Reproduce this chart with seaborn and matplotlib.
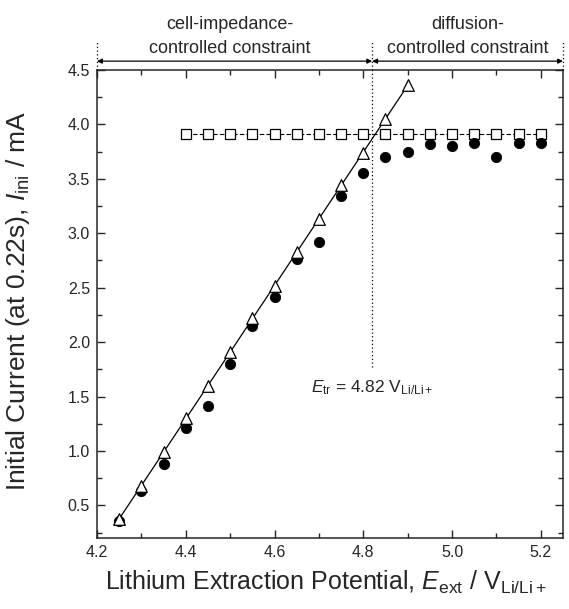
import numpy as np
import pandas as pd
import matplotlib
matplotlib.use("Agg")
import matplotlib.pyplot as plt
import seaborn as sns

# ==============================
# DATA
# ==============================
x_all = [4.25, 4.30, 4.35, 4.40, 4.45, 4.50, 4.55, 4.60, 4.65, 4.70,
         4.75, 4.80, 4.85, 4.90, 4.95, 5.00, 5.05, 5.10, 5.15, 5.20]
i_measured = [0.36, 0.63, 0.88, 1.21, 1.41, 1.80, 2.15, 2.41, 2.76, 2.92,
              3.34, 3.55, 3.70, 3.75, 3.82, 3.80, 3.83, 3.70, 3.83, 3.83]

x_tri = [4.25, 4.30, 4.35, 4.40, 4.45, 4.50, 4.55, 4.60, 4.65, 4.70,
         4.75, 4.80, 4.85, 4.90]
i_impedance = [0.37, 0.68, 0.99, 1.30, 1.60, 1.91, 2.22, 2.52, 2.83, 3.13,
               3.44, 3.74, 4.05, 4.36]

x_sq = [4.40, 4.45, 4.50, 4.55, 4.60, 4.65, 4.70, 4.75, 4.80, 4.85,
        4.90, 4.95, 5.00, 5.05, 5.10, 5.15, 5.20]
i_diffusion = [3.91] * len(x_sq)

E_tr = 4.82

df_meas = pd.DataFrame({'x': x_all, 'y': i_measured})
df_tri = pd.DataFrame({'x': x_tri, 'y': i_impedance})
df_sq = pd.DataFrame({'x': x_sq, 'y': i_diffusion})

# ==============================
# STYLE
# ==============================
sns.set_style("ticks")
plt.rcParams['font.family'] = ['Liberation Sans', 'DejaVu Sans']
plt.rcParams['mathtext.fontset'] = 'custom'
plt.rcParams['mathtext.rm'] = 'Liberation Sans'
plt.rcParams['mathtext.it'] = 'Liberation Sans:italic'

fig = plt.figure(figsize=(5.69, 6.09), dpi=100)
ax = fig.add_axes([0.1705, 0.1166, 0.819, 0.7684])

# linear fit through the cell-impedance points
coef = np.polyfit(x_tri, i_impedance, 1)
fit_x = np.array([x_tri[0], x_tri[-1]])
ax.plot(fit_x, np.polyval(coef, fit_x), color='black', lw=0.9, zorder=1)

# diffusion constant line
sns.lineplot(data=df_sq, x='x', y='y', ax=ax, color='black', lw=0.8,
             linestyle=(0, (4, 2)), marker='s', markersize=6.5,
             markerfacecolor='white', markeredgecolor='black',
             markeredgewidth=0.9, zorder=2)

sns.scatterplot(data=df_tri, x='x', y='y', ax=ax, marker='^', s=70,
                facecolor='white', edgecolor='black', linewidth=0.9, zorder=4)
sns.scatterplot(data=df_meas, x='x', y='y', ax=ax, marker='o', s=55,
                color='black', edgecolor='black', zorder=3)

ax.set_xlim(4.2, 5.25)
ax.set_ylim(0.2, 4.5)
ax.set_xticks(np.arange(4.2, 5.21, 0.2))
ax.set_xticks(np.arange(4.3, 5.21, 0.2), minor=True)
ax.set_yticks(np.arange(0.5, 4.51, 0.5))
ax.set_yticks(np.arange(0.25, 4.5, 0.5), minor=True)
ax.xaxis.set_major_formatter(matplotlib.ticker.FormatStrFormatter('%.1f'))
ax.yaxis.set_major_formatter(matplotlib.ticker.FormatStrFormatter('%.1f'))
ax.tick_params(which='both', direction='in', top=True, right=True,
               labelsize=11.5, width=1.0)
ax.tick_params(which='major', length=6, pad=5)
ax.tick_params(which='minor', length=3.5)
for sp in ax.spines.values():
    sp.set_linewidth(1.1)

ax.set_xlabel(r'Lithium Extraction Potential, $\mathit{E}_{\mathrm{ext}}$ / V$_{\mathrm{Li/Li+}}$',
              fontsize=18)
ax.set_ylabel(r'Initial Current (at 0.22s), $\mathit{I}_{\mathrm{ini}}$ / mA',
              fontsize=19)
ax.xaxis.set_label_coords(0.49, -0.065)
ax.yaxis.set_label_coords(-0.14, 0.506)

# transition potential
ax.plot([E_tr, E_tr], [1.77, 4.5], color='black', lw=0.9,
        linestyle=(0, (1, 2)), zorder=1)
trans = matplotlib.transforms.blended_transform_factory(ax.transData, ax.transAxes)
for xv in [4.2, E_tr, 5.25]:
    ax.plot([xv, xv], [1.0, 1.064], transform=trans, color='black', lw=0.9,
            linestyle=(0, (1, 2)), clip_on=False)
for x0, x1 in [(4.2, E_tr), (E_tr, 5.25)]:
    ax.annotate('', xy=(x1, 1.019), xytext=(x0, 1.019),
                xycoords=trans, textcoords=trans,
                arrowprops=dict(arrowstyle='<|-|>', color='black', lw=0.9,
                                mutation_scale=7, shrinkA=0, shrinkB=0))

ax.text((4.2 + E_tr) / 2 - 0.01, 1.098, 'cell-impedance-', transform=trans,
        ha='center', va='center', fontsize=13)
ax.text((4.2 + E_tr) / 2 - 0.01, 1.046, 'controlled constraint', transform=trans,
        ha='center', va='center', fontsize=13)
ax.text((E_tr + 5.25) / 2, 1.098, 'diffusion-', transform=trans,
        ha='center', va='center', fontsize=13)
ax.text((E_tr + 5.25) / 2, 1.046, 'controlled constraint', transform=trans,
        ha='center', va='center', fontsize=13)

ax.text(4.683, 1.58, r'$\mathit{E}_{\mathrm{tr}}$ = 4.82 V$_{\mathrm{Li/Li+}}$',
        fontsize=12.5, ha='left', va='center')

plt.savefig('out.png', dpi=100, facecolor='white')
plt.close()
